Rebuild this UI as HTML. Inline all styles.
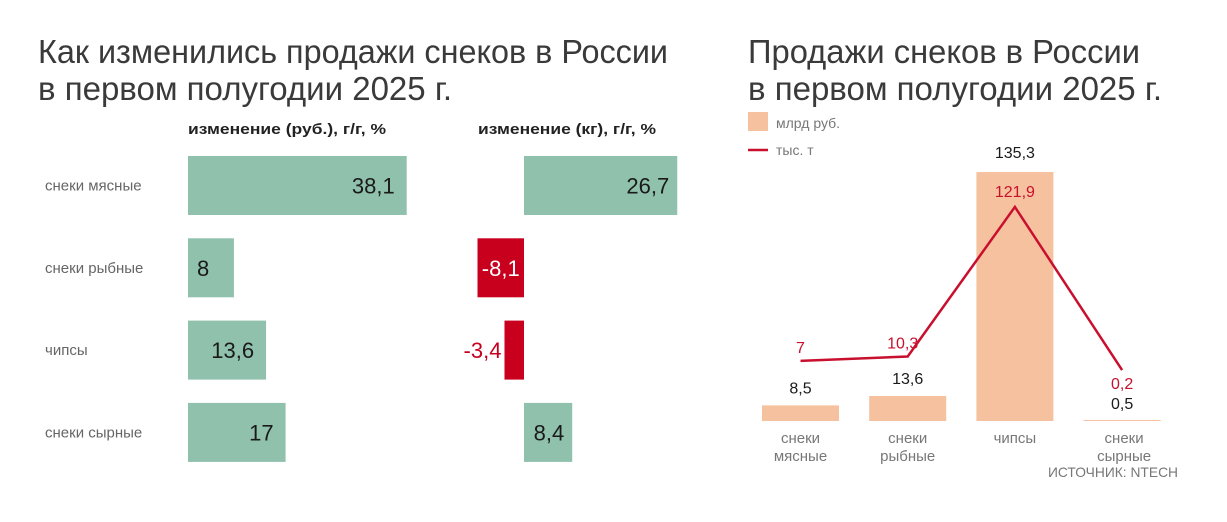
<!DOCTYPE html>
<html><head><meta charset="utf-8"><style>
body{margin:0;background:#fff;}
svg{display:block;font-family:"Liberation Sans","DejaVu Sans",sans-serif;}
</style></head><body>
<svg id="c" width="1227" height="522" viewBox="0 0 1227 522">
<g fill="#3a3a3a" font-size="33">
<text x="38" y="63" textLength="630" lengthAdjust="spacingAndGlyphs">Как изменились продажи снеков в России</text>
<text x="38" y="100" textLength="414" lengthAdjust="spacingAndGlyphs">в первом полугодии 2025 г.</text>
</g>
<g fill="#3a3a3a" font-size="33">
<text x="748" y="63" textLength="392" lengthAdjust="spacingAndGlyphs">Продажи снеков в России</text>
<text x="748" y="100" textLength="414" lengthAdjust="spacingAndGlyphs">в первом полугодии 2025 г.</text>
</g>
<text x="188" y="134" font-size="15" font-weight="bold" fill="#222" textLength="198" lengthAdjust="spacingAndGlyphs">изменение (руб.), г/г, %</text>
<text x="478" y="134" font-size="15" font-weight="bold" fill="#222" textLength="178" lengthAdjust="spacingAndGlyphs">изменение (кг), г/г, %</text>
<g id="left"></g>
<g>
<rect x="748" y="112" width="20" height="19" fill="#f6c19f"/>
<text x="776" y="128" font-size="14" fill="#777">млрд руб.</text>
<line x1="748" y1="150" x2="768" y2="150" stroke="#c8102e" stroke-width="2.5"/>
<text x="776" y="155" font-size="14" fill="#777">тыс. т</text>
</g>
<g id="right"></g>
<text x="1048" y="477" font-size="14" fill="#777" textLength="130" lengthAdjust="spacingAndGlyphs">ИСТОЧНИК: NTECH</text>
</svg>
<script>
const categories=["снеки мясные","снеки рыбные","чипсы","снеки сырные"];
const rubChange=[38.1,8,13.6,17];
const kgChange=[26.7,-8.1,-3.4,8.4];
const rubLabels=["38,1","8","13,6","17"];
const kgLabels=["26,7","-8,1","-3,4","8,4"];
const salesRub=[8.5,13.6,135.3,0.5];
const salesTons=[7,10.3,121.9,0.2];
const salesRubLabels=["8,5","13,6","135,3","0,5"];
const salesTonsLabels=["7","10,3","121,9","0,2"];
const catLines=[["снеки","мясные"],["снеки","рыбные"],["чипсы"],["снеки","сырные"]];

const NS="http://www.w3.org/2000/svg";
function mk(p,t,a,txt){const e=document.createElementNS(NS,t);for(const k in a)e.setAttribute(k,a[k]);if(txt!=null)e.textContent=txt;p.appendChild(e);return e;}
const L=document.getElementById('left'),R=document.getElementById('right');
const k=5.74;
const xL=v=>188+v*k, xK=v=>524+v*k;
const rowY=i=>156+i*82.3, bh=59;
categories.forEach((c,i)=>{
  const y=rowY(i);
  let t=mk(L,'text',{x:45,y:y+bh/2+5,'font-size':15,fill:'#666'},c);
  
  let r=mk(L,'rect',{x:188,y:y,width:xL(rubChange[i])-188,height:bh,fill:'#8fc1ad'});
  
  t=mk(L,'text',{x:rubChange[i]>12?xL(rubChange[i])-12:197,y:y+bh/2+8,'font-size':22,fill:'#1a1a1a','text-anchor':rubChange[i]>12?'end':'start'},rubLabels[i]);
  
  const v=kgChange[i],x0=Math.min(xK(0),xK(v)),w=Math.abs(xK(v)-xK(0));
  r=mk(L,'rect',{x:x0,y:y,width:w,height:bh,fill:v<0?'#c8001e':'#8fc1ad'});
  
  let lx,anc,col;
  if(v>=0){lx=xK(v)-8;anc='end';col='#1a1a1a';}
  else if(w>35){lx=x0+w/2;anc='middle';col='#fff';}
  else{lx=x0-3;anc='end';col='#c8001e';}
  t=mk(L,'text',{x:lx,y:y+bh/2+8,'font-size':22,fill:col,'text-anchor':anc},kgLabels[i]);
  
});
const base=421, bs=1.84, ls=1.34, lb=370.3;
const cx=i=>800.5+i*107.2;
const yB=v=>base-v*bs, yT=v=>lb-v*ls;
categories.forEach((c,i)=>{
  const h=Math.max(base-yB(salesRub[i]),1);
  let r=mk(R,'rect',{x:cx(i)-38.5,y:base-h,width:77,height:h,fill:'#f6c19f'});
  
  let ly=(i==2)?yB(salesRub[i])-14:(i==3?409:yB(salesRub[i])-12);
  let t=mk(R,'text',{x:cx(i),y:ly,'font-size':16,fill:'#1a1a1a','text-anchor':'middle'},salesRubLabels[i]);
  
  catLines[i].forEach((s,j)=>{
    t=mk(R,'text',{x:cx(i)+(i==3?2:0),y:443+j*18,'font-size':15,fill:'#777','text-anchor':'middle'},s);
    
  });
});
const pts=salesTons.map((v,i)=>cx(i)+','+yT(v)).join(' ');
let pl=mk(R,'polyline',{points:pts,fill:'none',stroke:'#c8102e','stroke-width':2.5});

salesTons.forEach((v,i)=>{
  const dy=i==2?-10:(i==3?19:-8);
  const dx=i==0?0:(i==1?-5:0);
  let t=mk(R,'text',{x:cx(i)+dx,y:yT(v)+dy,'font-size':16,fill:'#c8102e','text-anchor':'middle'},salesTonsLabels[i]);
  
});
</script>
</body></html>
